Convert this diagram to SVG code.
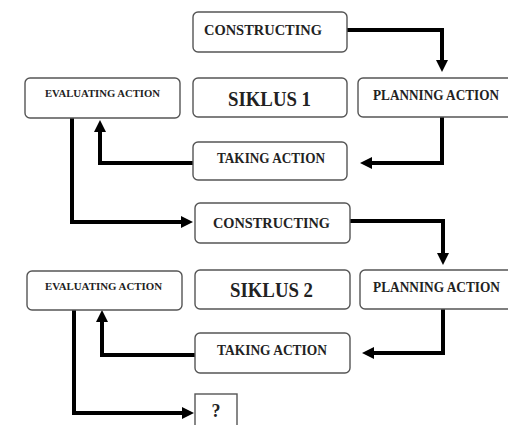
<svg xmlns="http://www.w3.org/2000/svg" width="508" height="425" viewBox="0 0 508 425">
<defs>
<style>
.box{fill:#fff;stroke:#555;stroke-width:1.4}
.t{font-family:"Liberation Serif","Times New Roman",serif;font-weight:bold;fill:#222}
.c{fill:none;stroke:#000;stroke-width:4;stroke-linejoin:miter}
</style>
<marker id="ah" markerUnits="userSpaceOnUse" markerWidth="12" markerHeight="12" viewBox="0 0 12 12" refX="0" refY="6" orient="auto">
<path d="M0,0 L12,6 L0,12 Z" fill="#000"/>
</marker>
</defs>
<rect width="508" height="425" fill="#fff"/>
<g id="connectors">
<path class="c" d="M347,30 H442 V60" marker-end="url(#ah)"/>
<path class="c" d="M442,117 V163 H372" marker-end="url(#ah)"/>
<path class="c" d="M193,163 H100 V132" marker-end="url(#ah)"/>
<path class="c" d="M72,118 V222 H181" marker-end="url(#ah)"/>
<path class="c" d="M350,221 H443 V253" marker-end="url(#ah)"/>
<path class="c" d="M443,309 V353 H374" marker-end="url(#ah)"/>
<path class="c" d="M195,355 H102 V322" marker-end="url(#ah)"/>
<path class="c" d="M74,310 V413 H182" marker-end="url(#ah)"/>
</g>
<g id="constructing1">
<rect class="box" x="193" y="12" width="154" height="40" rx="5"/>
<text class="t" x="204" y="35" font-size="15.5" textLength="118" lengthAdjust="spacingAndGlyphs">CONSTRUCTING</text>
</g>
<g id="siklus1">
<rect class="box" x="193" y="78" width="154" height="39" rx="5"/>
<text class="t" x="228" y="106" font-size="21" textLength="83" lengthAdjust="spacingAndGlyphs">SIKLUS 1</text>
</g>
<g id="planning1">
<rect class="box" x="358" y="78" width="160" height="39" rx="5"/>
<text class="t" x="373" y="100" font-size="14" textLength="126" lengthAdjust="spacingAndGlyphs">PLANNING ACTION</text>
</g>
<g id="taking1">
<rect class="box" x="193" y="142" width="154" height="38" rx="5"/>
<text class="t" x="217" y="163" font-size="14" textLength="108" lengthAdjust="spacingAndGlyphs">TAKING ACTION</text>
</g>
<g id="evaluating1">
<rect class="box" x="25" y="78" width="155" height="40" rx="5"/>
<text class="t" x="45" y="97" font-size="11" textLength="115" lengthAdjust="spacingAndGlyphs">EVALUATING ACTION</text>
</g>
<g id="constructing2">
<rect class="box" x="195" y="203" width="155" height="40" rx="5"/>
<text class="t" x="213" y="228" font-size="15.5" textLength="117" lengthAdjust="spacingAndGlyphs">CONSTRUCTING</text>
</g>
<g id="siklus2">
<rect class="box" x="195" y="270" width="155" height="39" rx="5"/>
<text class="t" x="230" y="297" font-size="21" textLength="83" lengthAdjust="spacingAndGlyphs">SIKLUS 2</text>
</g>
<g id="planning2">
<rect class="box" x="360" y="270" width="160" height="39" rx="5"/>
<text class="t" x="373" y="292" font-size="14" textLength="127" lengthAdjust="spacingAndGlyphs">PLANNING ACTION</text>
</g>
<g id="taking2">
<rect class="box" x="195" y="333" width="155" height="40" rx="5"/>
<text class="t" x="217" y="355" font-size="14" textLength="110" lengthAdjust="spacingAndGlyphs">TAKING ACTION</text>
</g>
<g id="evaluating2">
<rect class="box" x="27" y="271" width="155" height="39" rx="5"/>
<text class="t" x="45" y="290" font-size="11" textLength="117" lengthAdjust="spacingAndGlyphs">EVALUATING ACTION</text>
</g>
<g id="question">
<rect class="box" x="195" y="394" width="42" height="40"/>
<text class="t" x="216" y="417" font-size="18" text-anchor="middle">?</text>
</g>
</svg>
